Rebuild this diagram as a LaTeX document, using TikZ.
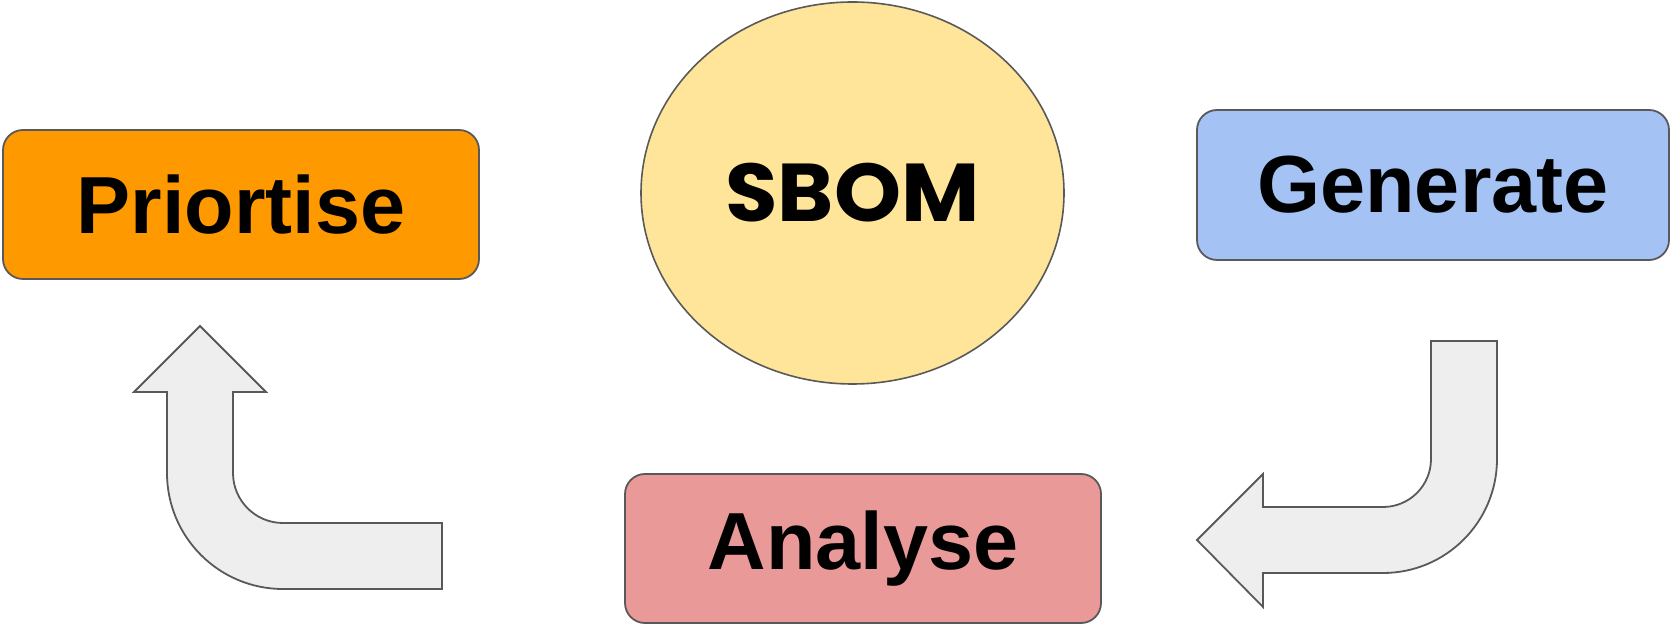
\documentclass[tikz,border=0pt]{standalone}
\usepackage{fontspec}
\setmainfont{Liberation Sans}
\newfontfamily\sbomfont[FakeStretch=1.04]{Poppins}
\usetikzlibrary{shapes.geometric}
\definecolor{strk}{HTML}{595959}
\definecolor{orangeF}{HTML}{FF9900}
\definecolor{blueF}{HTML}{A4C2F4}
\definecolor{yellowF}{HTML}{FFE599}
\definecolor{redF}{HTML}{EA9999}
\definecolor{arrowF}{HTML}{EEEEEE}
\begin{document}
\begin{tikzpicture}[x=1pt,y=1pt,
  stagebox/.style={draw=strk, line width=1.8pt, rounded corners=20pt, inner sep=0pt,
    minimum width=476pt, minimum height=149pt,
    font=\fontsize{81}{81}\selectfont\bfseries},
  bentarrow/.style={draw=strk, line width=1.8pt, fill=arrowF, line join=miter}]
\useasboundingbox (0,0) rectangle (1671,624);
\node[stagebox, fill=orangeF] (prio) at (241,419.5) {Priortise};
\node[stagebox, fill=blueF, minimum width=472pt, minimum height=150pt] (gen) at (1433,439) {Generate};
\node[stagebox, fill=redF] (ana) at (863,75.5) {Analyse};
\node[ellipse, draw=strk, line width=1.6pt, fill=yellowF, inner sep=0pt,
  minimum width=423pt, minimum height=382pt,
  font=\sbomfont\fontsize{82}{82}\selectfont\bfseries] (sbom) at (852.5,431) {SBOM};
% left bent arrow (Analyse -> Priortise)
\draw[bentarrow] (200,298) -- (266,232) -- (233,232) -- (233,151)
  arc[start angle=180, end angle=270, radius=50] -- (442,101) -- (442,35) -- (283,35)
  arc[start angle=270, end angle=180, radius=116] -- (167,232) -- (134,232) -- cycle;
% right bent arrow (Generate -> Analyse)
\draw[bentarrow] (1431,283) -- (1497,283) -- (1497,165)
  arc[start angle=0, end angle=-90, radius=114] -- (1263,51) -- (1263,17) -- (1197,84)
  -- (1263,150) -- (1263,117) -- (1383,117)
  arc[start angle=-90, end angle=0, radius=48] -- cycle;
\end{tikzpicture}
\end{document}
